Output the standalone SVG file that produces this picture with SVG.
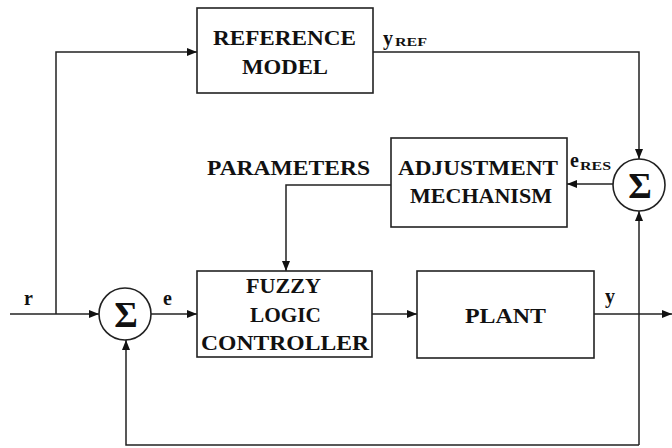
<svg xmlns="http://www.w3.org/2000/svg" width="672" height="448" viewBox="0 0 672 448">
<style>
.box{fill:#fff;stroke:#222;stroke-width:1.6}
.ln{fill:none;stroke:#222;stroke-width:1.5}
.t{font-family:"Liberation Serif","Times New Roman",serif;font-weight:bold;font-size:20px;fill:#111}
.sub{font-family:"Liberation Serif","Times New Roman",serif;font-weight:bold;font-size:12px;fill:#111}
.sig{font-family:"Liberation Serif","Times New Roman",serif;font-weight:bold;font-size:36px;fill:#111;text-anchor:middle}
</style>
<defs>
<marker id="ah" markerUnits="userSpaceOnUse" markerWidth="11" markerHeight="9" refX="10" refY="4" orient="auto">
<path d="M0,0 L10,4 L0,8 z" fill="#111"/>
</marker>
</defs>
<rect width="672" height="448" fill="#fff"/>
<g id="connectors" class="ln" marker-end="url(#ah)">
<path d="M10,314 H99"/>
<path d="M56,314 V52 H197"/>
<path d="M151,314 H197"/>
<path d="M372,314 H417"/>
<path d="M594,314 H672"/>
<path d="M373,52 H639 V159"/>
<path d="M639,445 V211"/>
<path d="M639,445 H126 V340"/>
<path d="M613,184 H567"/>
<path d="M391,185 H286 V271"/>
</g>
<g id="reference-model">
<rect class="box" x="197" y="8" width="176" height="85"/>
<text class="t" x="213" y="45" textLength="143" lengthAdjust="spacingAndGlyphs">REFERENCE</text>
<text class="t" x="242" y="74" textLength="86" lengthAdjust="spacingAndGlyphs">MODEL</text>
</g>
<g id="adjustment-mechanism">
<rect class="box" x="391" y="138" width="176" height="89"/>
<text class="t" x="398" y="175" textLength="160" lengthAdjust="spacingAndGlyphs">ADJUSTMENT</text>
<text class="t" x="410" y="203" textLength="142" lengthAdjust="spacingAndGlyphs">MECHANISM</text>
</g>
<g id="fuzzy-logic-controller">
<rect class="box" x="197" y="271" width="175" height="86"/>
<text class="t" x="246" y="293" textLength="75" lengthAdjust="spacingAndGlyphs">FUZZY</text>
<text class="t" x="250" y="322" textLength="71" lengthAdjust="spacingAndGlyphs">LOGIC</text>
<text class="t" x="201" y="350" textLength="168" lengthAdjust="spacingAndGlyphs">CONTROLLER</text>
</g>
<g id="plant">
<rect class="box" x="417" y="271" width="177" height="87"/>
<text class="t" x="465" y="323" textLength="81" lengthAdjust="spacingAndGlyphs">PLANT</text>
</g>
<g id="sum-left">
<circle class="box" cx="125" cy="314" r="26"/>
<text class="sig" x="126" y="327">Σ</text>
</g>
<g id="sum-right">
<circle class="box" cx="639" cy="185" r="26"/>
<text class="sig" x="640" y="198">Σ</text>
</g>
<g id="labels">
<text class="t" x="207" y="175" textLength="163" lengthAdjust="spacingAndGlyphs">PARAMETERS</text>
<text class="t" x="383" y="45">y</text><text class="sub" x="395" y="46" textLength="32" lengthAdjust="spacingAndGlyphs">REF</text>
<text class="t" x="570" y="167" font-size="16">e</text><text class="sub" x="580" y="170" textLength="31" lengthAdjust="spacingAndGlyphs">RES</text>
<text class="t" x="24" y="305">r</text>
<text class="t" x="163" y="305">e</text>
<text class="t" x="605" y="303">y</text>
</g>
</svg>
